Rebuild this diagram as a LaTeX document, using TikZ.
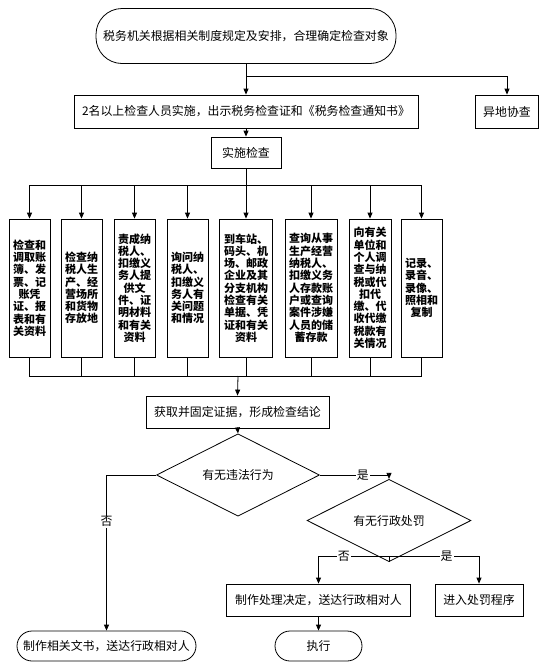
\documentclass[tikz,border=0pt]{standalone}
\usepackage{fontspec}
\setmainfont{Noto Sans CJK SC}
\usetikzlibrary{arrows.meta,shapes.geometric}
\begin{document}
\begin{tikzpicture}[x=1pt,y=-1pt,
  every node/.style={font=\fontsize{11.9}{14}\selectfont, inner sep=0pt},
  box/.style={draw, line width=0.8pt, minimum width=#1, minimum height=32pt},
  term/.style={draw, line width=0.8pt, rounded corners=15pt, minimum width=#1, minimum height=30pt},
  vbox/.style={draw, line width=0.8pt, minimum width=#1, minimum height=138pt, align=center,
    font=\bfseries\fontsize{11}{12.3}\selectfont},
  dec/.style={draw, diamond, line width=0.8pt, minimum width=163pt, minimum height=#1},
  arr/.style={-{Triangle[length=6pt,width=5pt]}, line width=0.8pt},
  ln/.style={line width=0.8pt},
  lab/.style={fill=white, inner sep=1pt}
]
\useasboundingbox (0,0) rectangle (554,662);

\node[term=300, minimum height=55pt, rounded corners=26pt] (start) at (246,36) {税务机关根据相关制度规定及安排，合理确定检查对象};
\node[box=344, minimum height=33pt] (b2) at (246,111.5) {2名以上检查人员实施，出示税务检查证和《税务检查通知书》};
\node[box=63, minimum height=33pt] (yd) at (507,111.5) {异地协查};
\node[box=70, minimum height=31pt] (ss) at (246,152.5) {实施检查};

\node[vbox=41] (v1) at (29.5,288) {检查和\\调取账\\簿、发\\票、记\\账凭\\证、报\\表和有\\关资料};
\node[vbox=41] (v2) at (81.5,288) {检查纳\\税人生\\产、经\\营场所\\和货物\\存放地};
\node[vbox=41] (v3) at (134.5,288) {责成纳\\税人、\\扣缴义\\务人提\\供文\\件、证\\明材料\\和有关\\资料};
\node[vbox=41] (v4) at (187.5,288) {询问纳\\税人、\\扣缴义\\务人有\\关问题\\和情况};
\node[vbox=53] (v5) at (246,288) {到车站、\\码头、机\\场、邮政\\企业及其\\分支机构\\检查有关\\单据、凭\\证和有关\\资料};
\node[vbox=52] (v6) at (311,288) {查询从事\\生产经营\\纳税人、\\扣缴义务\\人存款账\\户或查询\\案件涉嫌\\人员的储\\蓄存款};
\node[vbox=42] (v7) at (370,288) {向有关\\单位和\\个人调\\查与纳\\税或代\\扣代\\缴、代\\收代缴\\税款有\\关情况};
\node[vbox=41] (v8) at (421.5,288) {记录、\\录音、\\录像、\\照相和\\复制};

\node[box=183] (hq) at (237.5,412) {获取并固定证据，形成检查结论};
\node[dec=54] (d1) at (238,475) {有无违法行为};
\node[dec=45, minimum width=164pt] (d2) at (389,520.5) {有无行政处罚};
\node[box=184] (cl) at (318.5,600) {制作处理决定，送达行政相对人};
\node[box=88] (jr) at (479,600) {进入处罚程序};
\node[term=87] (zx) at (318.5,646) {执行};
\node[term=179] (el) at (106.5,646) {制作相关文书，送达行政相对人};

\coordinate (j1) at (246,76);
\coordinate (j2) at (246,185);
\coordinate (j3) at (238,376);
\coordinate (j4) at (389,556);

\draw[arr] (start.south) -- (b2.north);
\draw[arr] (j1) -| (yd.north);
\draw[arr] (b2.south) -- (ss.north);
\draw[ln] (ss.south) -- (j2);
\foreach \k in {1,...,8} {
  \draw[arr] (j2) -| (v\k.north);
  \draw[ln] (v\k.south) |- (j3);
}
\draw[arr] (j3) -- (hq.north);
\draw[arr] (hq.south) -- (d1.north);
\draw[arr] (d1.west) -| node[lab, pos=0.65] {否} (el.north);
\draw[arr] (d1.east) -| node[lab, pos=0.31] {是} (d2.north);
\draw[ln] (d2.south) -- (j4);
\draw[arr] (j4) -| node[lab, pos=0.32] {否} (cl.north);
\draw[arr] (j4) -| node[lab, pos=0.32] {是} (jr.north);
\draw[arr] (cl.south) -- (zx.north);
\end{tikzpicture}
\end{document}
